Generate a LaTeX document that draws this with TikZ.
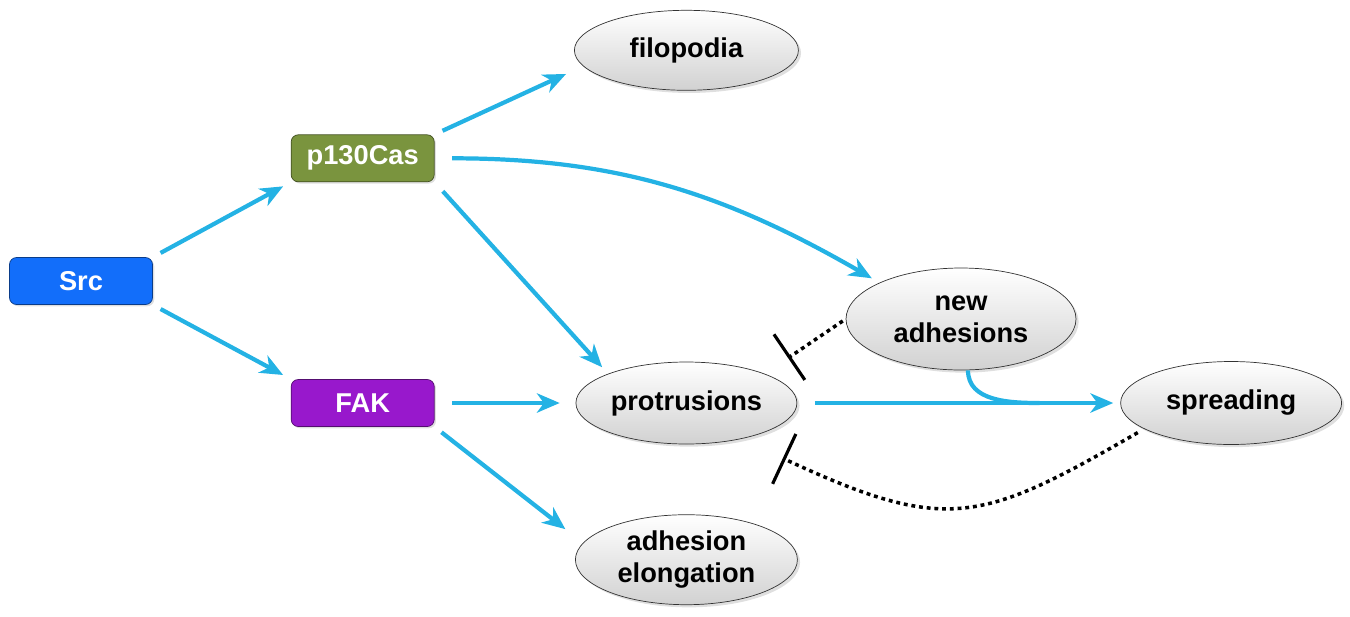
\documentclass[tikz,border=0pt]{standalone}
\usepackage{fontspec}
\setmainfont{Liberation Sans}
\usetikzlibrary{positioning,shapes,arrows.meta,calc,shadows}
\definecolor{srcblue}{RGB}{18,110,250}
\definecolor{casgreen}{RGB}{122,148,62}
\definecolor{fakpurple}{RGB}{152,24,204}
\definecolor{arrblue}{RGB}{36,178,228}

\begin{document}
\begin{tikzpicture}[
  mybox/.style={draw=#1!55!black,fill=#1,rounded corners=4pt,minimum width=2.86cm,minimum height=0.94cm,
    text=white,font=\fontsize{15.5}{18}\selectfont\bfseries,
    drop shadow={opacity=0.25,shadow xshift=1pt,shadow yshift=-1pt}},
  myell/.style={ellipse,draw=black!80,top color=white,bottom color=black!18,inner sep=0pt,
    minimum width=4.42cm,minimum height=1.64cm,align=center,font=\fontsize{15.5}{18}\selectfont\bfseries,
    drop shadow={opacity=0.25,shadow xshift=1.5pt,shadow yshift=-1.5pt}},
  myarrow/.style={draw=arrblue,line width=2.4pt,-{Stealth[length=13pt,width=11pt,inset=4pt]},
    shorten <=5pt,shorten >=5pt},
  myjoin/.style={draw=arrblue,line width=2.4pt},
  myinhib/.style={draw=black,line width=2pt,dash pattern=on 2.2pt off 2.2pt,
    -{Bar[width=1.1cm,line width=1.8pt]}}
]
\useasboundingbox (0,0) rectangle (27,-12.32);

\node[mybox=srcblue] (src) at (1.62,-5.62) {Src};
\node[mybox=casgreen,above right=1.5cm and 2.76cm of src] (p130) {p130Cas};
\node[mybox=fakpurple,below=3.94cm of p130] (fak) {FAK};
\node[myell,right=2.82cm of fak] (prot) {protrusions};
\node[myell,above=5.42cm of prot,minimum width=4.48cm,minimum height=1.6cm] (filo) {filopodia};
\node[myell,below=1.4cm of prot,minimum width=4.44cm,minimum height=1.8cm] (elong) {adhesion\\elongation};
\node[myell,right=6.46cm of prot,minimum height=1.66cm] (spread) {spreading};
\node[myell,minimum width=4.6cm,minimum height=2.04cm] (nadh) at (19.22,-6.38) {new\\adhesions};
\coordinate (merge) at ($(prot.east)!0.75!(spread.west)$);

\path (src.north east) edge[myarrow] (p130.south west)
(src.south east) edge[myarrow] (fak.north west)
(p130.north east) edge[myarrow] ([yshift=-0.4cm]filo.west)
(p130.south east) edge[myarrow,shorten <=7pt] (prot.north west)
(p130.east) edge[myarrow,shorten <=10pt,out=0,in=150] (nadh.north west)
(fak.east) edge[myarrow,shorten <=10pt,shorten >=9pt] (prot.west)
(fak.south east) edge[myarrow,shorten >=7pt] ([yshift=0.46cm]elong.west)
(prot.east) edge[myarrow,shorten <=10pt,shorten >=4pt] (spread.west)
([xshift=0.14cm]nadh.south) edge[myjoin,out=-90,in=180] (merge);

% inhibitions
\path (nadh.west) edge[myinhib,shorten <=2pt,shorten >=16pt] (prot.north east)
([xshift=-0.3cm]spread.south west) edge[myinhib,out=210,in=-25,looseness=1.3] ([xshift=0.36cm,yshift=-0.52cm]prot.south east);

\end{tikzpicture}
\end{document}
